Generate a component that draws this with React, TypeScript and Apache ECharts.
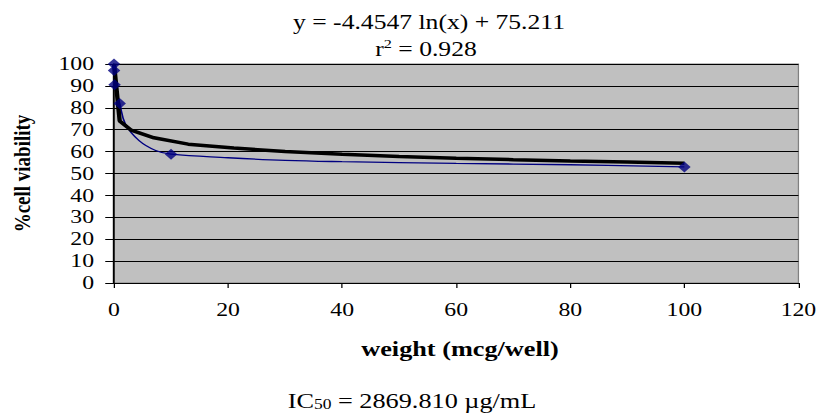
import React, { useEffect, useRef } from "react";
import * as echarts from "echarts";

// Observed data points (weight mcg/well, % cell viability)
const pointX = [0.001, 0.01, 0.1, 1, 10, 100];
const pointY = [100, 97, 90.5, 82, 58.8, 53];

// Blue smoothed connecting line
const curveX = [0.001, 0.01, 0.1, 1, 2, 4.4, 7.3, 10, 20, 30, 40, 60, 80, 100];
const curveY = [100, 97, 90.5, 82, 72.6, 65, 60.5, 58.8, 57.2, 56, 55.4, 54.6, 54, 53];

// Black logarithmic trendline
const trendX = [0.004, 1, 3, 7, 13, 21, 30, 40, 50, 60, 70, 80, 90, 100];
const trendY = [100, 74, 69.8, 66.3, 63.4, 61.6, 60, 58.8, 57.8, 57, 56.3, 55.7, 55.2, 54.7];

const xTicks = [0, 20, 40, 60, 80, 100, 120];
const yTicks = [0, 10, 20, 30, 40, 50, 60, 70, 80, 90, 100];

const equationText = "y = -4.4547 ln(x) + 75.211";
const r2Value = "0.928";
const ic50Text = "2869.810 µg/mL";
const xName = "weight (mcg/well)";
const yName = "%cell viability";

const FONT = "'Liberation Serif', 'Times New Roman', serif";
const STRETCH = 1.25; // the reference is horizontally stretched
const W = 820 / STRETCH;

export default function App() {
  const ref = useRef<HTMLDivElement>(null);
  useEffect(() => {
    if (!ref.current) return;
    const chart = echarts.init(ref.current, undefined, { renderer: "svg" });
    const zip = (xs: number[], ys: number[]) => xs.map((x, i) => [x, ys[i]]);
    const ox = (x: number) => x / STRETCH;
    chart.setOption({
      animation: false,
      backgroundColor: "#ffffff",
      textStyle: { fontFamily: FONT, color: "#000" },
      grid: {
        left: ox(114),
        right: ox(20),
        top: 64,
        bottom: 133,
        show: true,
        backgroundColor: "#c0c0c0",
        borderColor: "#808080",
        borderWidth: 1,
      },
      xAxis: {
        type: "value",
        min: xTicks[0],
        max: xTicks[xTicks.length - 1],
        interval: 20,
        axisLine: { show: true, onZero: false, lineStyle: { color: "#000", width: 1 } },
        axisTick: { show: true, inside: false, length: 5, lineStyle: { color: "#000" } },
        axisLabel: { fontFamily: FONT, fontSize: 19, color: "#000", margin: 17 },
        splitLine: { show: false },
      },
      yAxis: {
        type: "value",
        min: yTicks[0],
        max: yTicks[yTicks.length - 1],
        interval: 10,
        name: yName,
        nameLocation: "middle",
        nameGap: 64,
        nameRotate: 90,
        nameTextStyle: { fontFamily: FONT, fontWeight: "bold", fontSize: 19, color: "#000" },
        axisLine: { show: true, lineStyle: { color: "#000", width: 1.5 } },
        axisTick: { show: true, inside: false, length: 7, lineStyle: { color: "#000" } },
        axisLabel: { fontFamily: FONT, fontSize: 19, color: "#000", margin: 16 },
        splitLine: { show: true, lineStyle: { color: "#000", width: 1 } },
      },
      series: [
        {
          type: "line",
          data: zip(curveX, curveY),
          smooth: 0.4,
          showSymbol: false,
          lineStyle: { color: "#000080", width: 1.3 },
          z: 2,
        },
        {
          type: "line",
          data: zip(trendX, trendY),
          showSymbol: false,
          lineStyle: { color: "#000", width: 3.5 },
          z: 3,
        },
        {
          type: "scatter",
          data: zip(pointX, pointY),
          symbol: "diamond",
          symbolSize: [10, 11],
          itemStyle: { color: "#000080" },
          z: 4,
        },
      ],
      graphic: [
        {
          type: "text",
          x: ox(429),
          y: 22,
          style: { text: equationText, font: `20.5px ${FONT}`, fill: "#000", align: "center", verticalAlign: "middle" },
        },
        {
          type: "text",
          x: ox(426),
          y: 48,
          style: {
            text: `{b|r}{s|2}{b| = ${r2Value}}`,
            fill: "#000",
            align: "center",
            verticalAlign: "middle",
            rich: {
              b: { fontFamily: FONT, fontSize: 20.5, color: "#000", verticalAlign: "bottom", lineHeight: 22 },
              s: { fontFamily: FONT, fontSize: 13, color: "#000", verticalAlign: "top", lineHeight: 22, padding: [0, 0, 9, 0] },
            },
          },
        },
        {
          type: "text",
          x: ox(460),
          y: 349,
          style: { text: xName, font: `bold 21px ${FONT}`, fill: "#000", align: "center", verticalAlign: "middle" },
        },
        {
          type: "text",
          x: ox(412),
          y: 398,
          style: {
            text: `{b|IC}{s|50}{b| = ${ic50Text}}`,
            fill: "#000",
            align: "center",
            verticalAlign: "middle",
            rich: {
              b: { fontFamily: FONT, fontSize: 21, color: "#000", lineHeight: 26, verticalAlign: "bottom" },
              s: { fontFamily: FONT, fontSize: 14, color: "#000", lineHeight: 26, verticalAlign: "bottom", padding: [9, 0, 0, 0] },
            },
          },
        },
      ],
    });
    return () => chart.dispose();
  }, []);
  return (
    <div
      ref={ref}
      style={{
        position: "absolute",
        left: 0,
        top: 0,
        width: W,
        height: 416,
        transform: `scaleX(${STRETCH})`,
        transformOrigin: "0 0",
      }}
    />
  );
}
